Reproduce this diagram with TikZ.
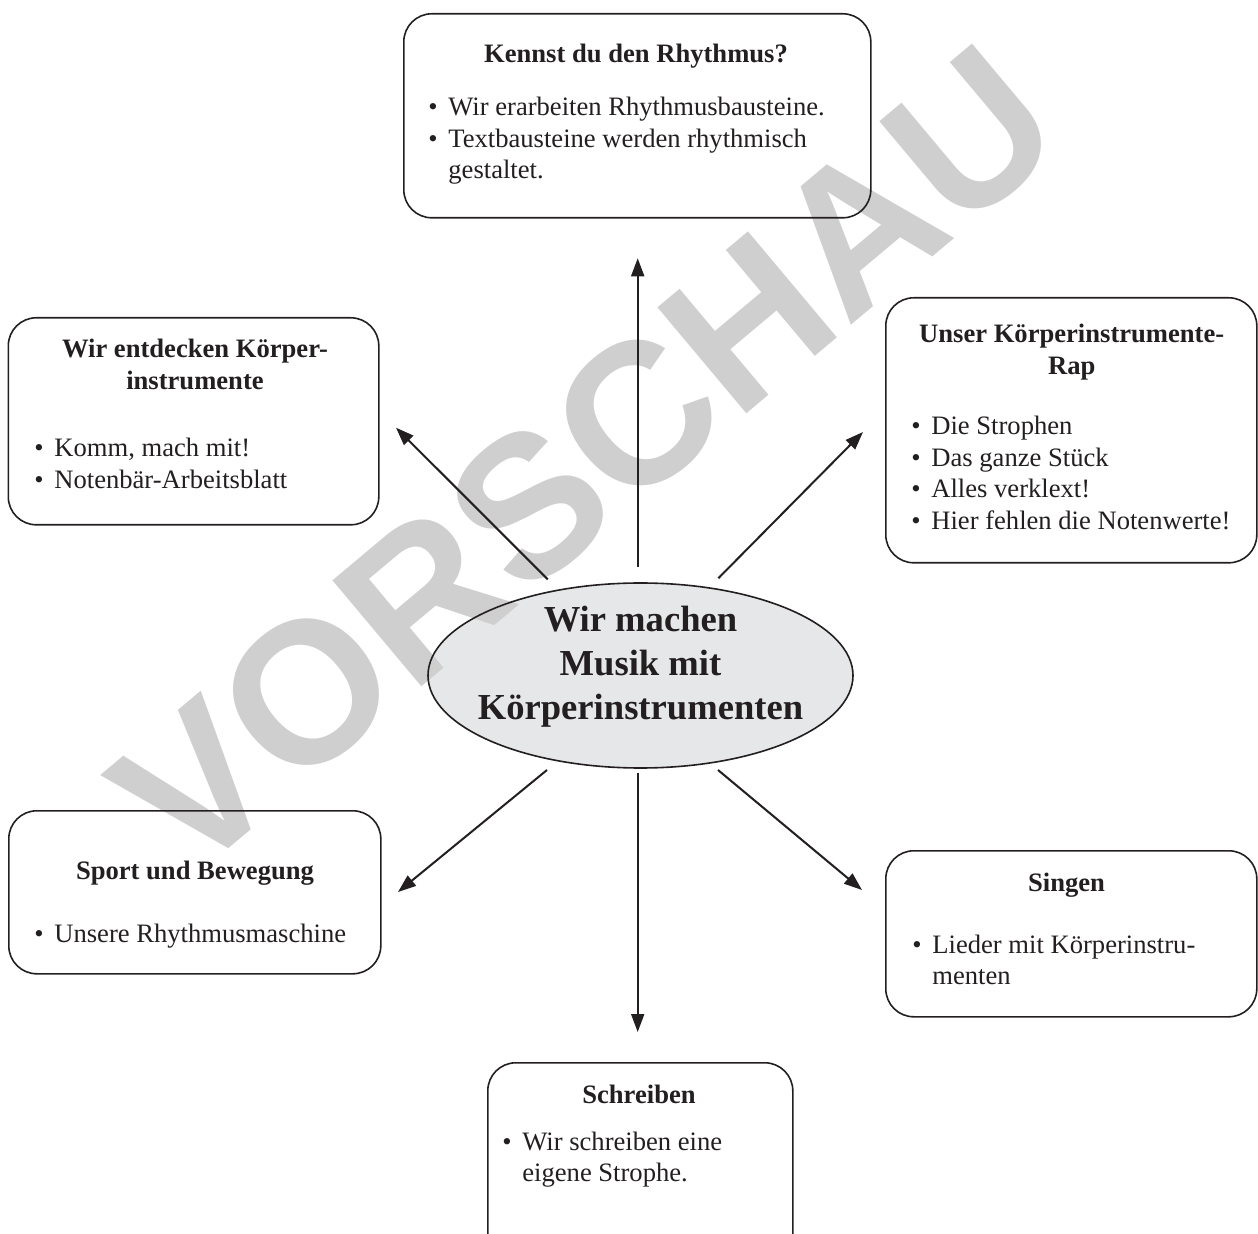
\documentclass[tikz,border=0pt]{standalone}
\usepackage{fontspec}
\setmainfont{Liberation Serif}
\newfontfamily\wmfont{Liberation Sans}
\usetikzlibrary{arrows.meta,shapes.geometric}
\definecolor{ink}{HTML}{231F20}
\definecolor{ellgray}{HTML}{E6E7E8}
\definecolor{wmgray}{RGB}{207,207,207}
\pgfdeclarelayer{bg}\pgfdeclarelayer{wm}\pgfsetlayers{bg,wm,main}
\newcommand\bulletbox{\makebox[10pt][l]{\textbullet}}
\tikzset{
  box/.style={draw=ink, line width=0.8pt, rounded corners=14pt, inner sep=0pt, anchor=north west},
  ttl/.style={anchor=base, inner sep=0pt, text=ink, font=\fontsize{13.3}{15.75}\selectfont\bfseries},
  bul/.style={anchor=base west, inner sep=0pt, text=ink, font=\fontsize{13.3}{15.75}\selectfont},
  arr/.style={draw=ink, line width=1pt, -{Triangle[length=9pt,width=6.5pt]}},
  ellshape/.style={ellipse, inner sep=0pt, minimum width=212.5pt, minimum height=92.5pt},
}
\begin{document}
\begin{tikzpicture}[x=0.5pt,y=-0.5pt]
\useasboundingbox (0,0) rectangle (1258,1234);

% centre ellipse
\begin{pgfonlayer}{bg}
\node[ellshape, fill=ellgray] (ellbg) at (640.5,675.5) {};
\end{pgfonlayer}
\node[ellshape, draw=ink, line width=0.8pt] (ell) at (640.5,675.5) {};
\node[anchor=base, inner sep=0pt, text=ink, font=\fontsize{18.3}{22}\selectfont\bfseries] (elltxt) at (640.5,632)
  {\begin{tabular}[t]{@{}c@{}}Wir machen\\Musik mit\\Körperinstrumenten\end{tabular}};

% watermark
\begin{pgfonlayer}{wm}
\node[inner sep=0pt, rotate=40, text=wmgray, font=\wmfont\bfseries\fontsize{100.6}{100}\selectfont] (wmark) at (585,459) {VORSCHAU};
\end{pgfonlayer}

% boxes
\node[box, minimum width=233.5pt, minimum height=102pt] (top) at (403,13) {};
\node[box, minimum width=185.25pt, minimum height=103.5pt] (left) at (7.5,317) {};
\node[box, minimum width=185.5pt, minimum height=132.5pt] (right) at (885,297) {};
\node[box, minimum width=186pt, minimum height=81.5pt] (sport) at (8,810) {};
\node[box, minimum width=185.5pt, minimum height=83pt] (singen) at (885,850) {};
\node[box, minimum width=152.5pt, minimum height=100pt] (schreiben) at (487,1062) {};

% top box text
\node[ttl] (toph) at (636,63) {Kennst du den Rhythmus?};
\node[bul] (topb) at (428,116) {\begin{tabular}[t]{@{}l@{}l@{}}\bulletbox & Wir erarbeiten Rhythmusbausteine.\\ \bulletbox & Textbausteine werden rhythmisch\\ & gestaltet.\end{tabular}};

% left box text
\node[ttl] (lefth) at (195,358) {\begin{tabular}[t]{@{}c@{}}Wir entdecken Körper-\\instrumente\end{tabular}};
\node[bul] (leftb) at (34,456.7) {\begin{tabular}[t]{@{}l@{}l@{}}\bulletbox & Komm, mach mit!\\ \bulletbox & Notenbär-Arbeitsblatt\end{tabular}};

% right box text
\node[ttl] (righth) at (1071.7,343) {\begin{tabular}[t]{@{}c@{}}Unser Körperinstrumente-\\Rap\end{tabular}};
\node[bul] (rightb) at (911,435) {\begin{tabular}[t]{@{}l@{}l@{}}\bulletbox & Die Strophen\\ \bulletbox & Das ganze Stück\\ \bulletbox & Alles verklext!\\ \bulletbox & Hier fehlen die Notenwerte!\end{tabular}};

% sport box text
\node[ttl] (sporth) at (195,879) {Sport und Bewegung};
\node[bul] (sportb) at (34,942) {\begin{tabular}[t]{@{}l@{}l@{}}\bulletbox & Unsere Rhythmusmaschine\end{tabular}};

% singen box text
\node[ttl] (singenh) at (1066.5,891.7) {Singen};
\node[bul] (singenb) at (912,953.3) {\begin{tabular}[t]{@{}l@{}l@{}}\bulletbox & Lieder mit Körperinstru-\\ & menten\end{tabular}};

% schreiben box text
\node[ttl] (schreibenh) at (639,1103) {Schreiben};
\node[bul] (schreibenb) at (502,1150) {\begin{tabular}[t]{@{}l@{}l@{}}\bulletbox & Wir schreiben eine\\ & eigene Strophe.\end{tabular}};

% arrow end points
\coordinate (u0) at (637.7,566.7);  \coordinate (u1) at (637.7,258.3);
\coordinate (ul0) at (547.7,579.3); \coordinate (ul1) at (396,427.7);
\coordinate (ur0) at (718.3,578.3); \coordinate (ur1) at (863,432);
\coordinate (dl0) at (547,770);     \coordinate (dl1) at (398,892);
\coordinate (d0) at (637.7,773);    \coordinate (d1) at (637.7,1032);
\coordinate (dr0) at (718,770);     \coordinate (dr1) at (862,890);

\draw[arr] (u0) -- (u1);
\draw[arr] (ul0) -- (ul1);
\draw[arr] (ur0) -- (ur1);
\draw[arr] (dl0) -- (dl1);
\draw[arr] (d0) -- (d1);
\draw[arr] (dr0) -- (dr1);
\end{tikzpicture}
\end{document}
